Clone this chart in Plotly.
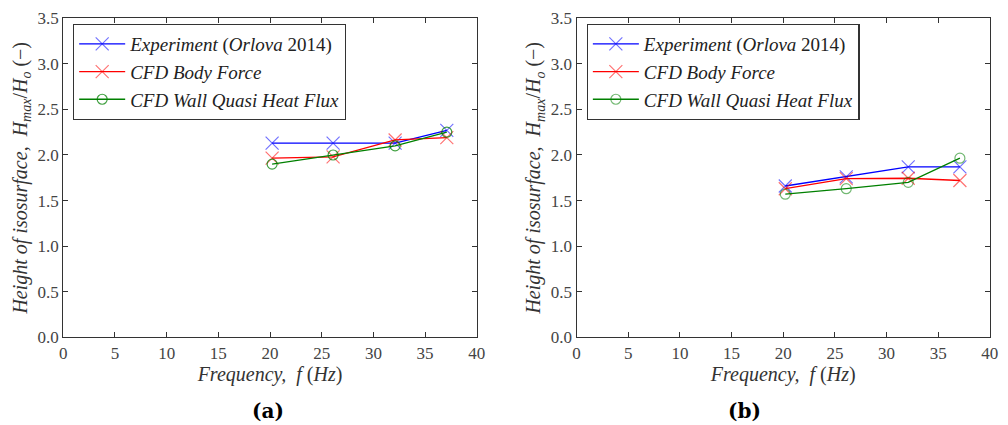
import plotly.graph_objects as go

freq = [20.2, 26.1, 32.1, 37.1]

exp_a = [2.13, 2.13, 2.13, 2.27]
body_a = [1.965, 1.98, 2.165, 2.19]
wall_a = [1.90, 2.00, 2.10, 2.25]

exp_b = [1.66, 1.76, 1.87, 1.87]
body_b = [1.63, 1.74, 1.745, 1.72]
wall_b = [1.57, 1.63, 1.70, 1.965]

names = ["<i>Experiment</i> (<i>Orlova</i> 2014)", "<i>CFD Body Force</i>", "<i>CFD Wall Quasi Heat Flux</i>"]
line_cols = ["rgb(0,0,255)", "rgb(255,0,0)", "rgb(0,128,0)"]
mark_cols = ["rgba(0,0,255,0.55)", "rgba(255,0,0,0.55)", "rgba(0,128,0,0.75)"]
symbols = ["x-thin-open", "x-thin-open", "circle-open"]
sizes = [13, 13, 10]

SERIF = "Liberation Serif"
fig = go.Figure()

panels = [(exp_a, body_a, wall_a, "x", "y", "legend"), (exp_b, body_b, wall_b, "x2", "y2", "legend2")]
for series, (e, b, w, xa, ya, lg) in zip([0, 1], panels):
    for i, ys in enumerate([e, b, w]):
        mc = mark_cols[i]
        if series == 1 and i == 2:
            mc = "rgba(0,128,0,0.55)"
        fig.add_trace(go.Scatter(
            x=freq, y=ys, mode="lines+markers", name=names[i],
            xaxis=xa, yaxis=ya, legend=lg,
            line=dict(color=line_cols[i], width=1.3),
            marker=dict(symbol=symbols[i], size=sizes[i], color=mc,
                        line=dict(color=mc, width=1.2)),
        ))

axis_common = dict(range=[0, 40], dtick=5, ticks="inside", ticklen=5, tickcolor="#333",
                   showline=True, linecolor="#333", linewidth=1.2, mirror="ticks",
                   showgrid=False, zeroline=False, automargin=False,
                   tickfont=dict(family=SERIF, size=17, color="#444"))
yaxis_common = dict(range=[0, 3.5], dtick=0.5, tickformat=".1f", ticks="inside", ticklen=5, tickcolor="#333",
                    showline=True, linecolor="#333", linewidth=1.2, mirror="ticks",
                    showgrid=False, zeroline=False, automargin=False,
                    tickfont=dict(family=SERIF, size=17, color="#444"))

xtitle = dict(text="<i>Frequency,  f</i> (<i>Hz</i>)", font=dict(family=SERIF, size=20, color="#333"), standoff=4)
ytitle = dict(text="<i>Height of isosurface,  H<sub>max</sub></i>/<i>H<sub>o</sub></i> (−)",
              font=dict(family=SERIF, size=20, color="#333"), standoff=4)

legend_common = dict(font=dict(family=SERIF, size=19, color="#222"), bgcolor="white",
                     bordercolor="#333", borderwidth=1.2, xanchor="left", yanchor="top",
                     itemwidth=46, tracegroupgap=0, entrywidth=0)

fig.update_layout(
    width=1008, height=425, margin=dict(l=0, r=0, t=0, b=0),
    paper_bgcolor="white", plot_bgcolor="white", showlegend=True,
    xaxis=dict(domain=[0.0628, 0.473], anchor="y", title=xtitle, **axis_common),
    yaxis=dict(domain=[0.2064, 0.957], anchor="x", title=ytitle, **yaxis_common),
    xaxis2=dict(domain=[0.572, 0.982], anchor="y2", title=xtitle, **axis_common),
    yaxis2=dict(domain=[0.2064, 0.957], anchor="x2", title=ytitle, **yaxis_common),
    legend=dict(x=0.0724, y=0.944, **legend_common),
    legend2=dict(x=0.582, y=0.944, **legend_common),
    annotations=[
        dict(text="<b>(a)</b>", x=250 / 1008, y=14 / 425, xref="paper", yref="paper", showarrow=False,
             font=dict(family="DejaVu Serif, serif", size=20, color="black"), yanchor="middle"),
        dict(text="<b>(b)</b>", x=763 / 1008, y=14 / 425, xref="paper", yref="paper", showarrow=False,
             font=dict(family="DejaVu Serif, serif", size=20, color="black"), yanchor="middle"),
    ],
)

fig.write_html("out.html", config={"displayModeBar": False},
               post_script="document.body.style.margin='0';document.body.style.overflow='hidden';")
